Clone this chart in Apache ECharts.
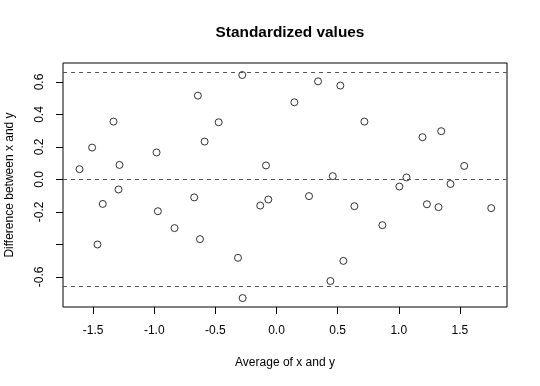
<!DOCTYPE html>
<html>
<head>
<meta charset="utf-8">
<script src="https://cdn.jsdelivr.net/npm/echarts@6/dist/echarts.min.js"></script>
<style>
html,body{margin:0;padding:0;background:#fff;}
#chart{width:540px;height:386px;}
</style>
</head>
<body>
<div id="chart"></div>
<script>
// Average of x and y
var avgValues = [-1.611,-1.508,-1.333,-1.284,-1.292,-1.421,-1.464,-0.981,-0.970,-0.834,
  -0.673,-0.643,-0.626,-0.588,-0.473,-0.315,-0.280,-0.277,-0.133,-0.086,
  -0.067,0.146,0.266,0.340,0.441,0.460,0.522,0.547,0.637,0.719,
  0.866,1.005,1.063,1.194,1.230,1.325,1.347,1.423,1.535,1.756];
// Difference between x and y
var diffValues = [0.063,0.196,0.356,0.089,-0.062,-0.151,-0.401,0.166,-0.196,-0.300,
  -0.111,0.516,-0.368,0.233,0.352,-0.483,0.643,-0.731,-0.161,0.086,
  -0.124,0.475,-0.103,0.604,-0.626,0.020,0.578,-0.502,-0.165,0.356,
  -0.282,-0.044,0.012,0.260,-0.153,-0.171,0.297,-0.028,0.083,-0.177];
var limitLines = [0.658, 0, -0.658];
var xTicks = [-1.5,-1.0,-0.5,0.0,0.5,1.0,1.5];
var yTicks = [-0.6,-0.4,-0.2,0.0,0.2,0.4,0.6];
var yTickLabels = [-0.6,-0.2,0.0,0.2,0.4,0.6];

var FONT = '"Liberation Sans", Arial, Helvetica, sans-serif';
var points = avgValues.map(function(v,i){ return [v, diffValues[i]]; });

var chart = echarts.init(document.getElementById('chart'), null, {renderer:'canvas'});
chart.setOption({
  animation: false,
  backgroundColor: '#fff',
  title: {
    text: 'Standardized values',
    left: 285, top: 20, textAlign: 'center',
    textStyle: {fontFamily: FONT, fontSize: 15.4, fontWeight: 'bold', color: '#000'}
  },
  grid: {left: 63, top: 63, width: 444, height: 244, containLabel: false, outerBoundsMode: 'none',
    show: true, borderColor: '#000', borderWidth: 1, backgroundColor: 'transparent'},
  xAxis: {
    type: 'value', min: -1.746, max: 1.885,
    name: 'Average of x and y', nameLocation: 'middle', nameGap: 50,
    nameTextStyle: {fontFamily: FONT, fontSize: 12, color: '#000'},
    axisLine: {show: false, onZero: false},
    axisTick: {show: true, inside: false, length: 7, lineStyle: {color: '#000', width: 1}, customValues: xTicks},
    axisLabel: {fontFamily: FONT, fontSize: 12, color: '#000', margin: 18, customValues: xTicks,
      formatter: function(v){ return Number(v).toFixed(1); }},
    splitLine: {show: false}
  },
  yAxis: {
    type: 'value', min: -0.786, max: 0.717,
    name: 'Difference between x and y', nameLocation: 'middle', nameGap: 47,
    nameTextStyle: {fontFamily: FONT, fontSize: 12, color: '#000'},
    axisLine: {show: false, onZero: false},
    axisTick: {show: true, inside: false, length: 7, lineStyle: {color: '#000', width: 1}, customValues: yTicks},
    axisLabel: {fontFamily: FONT, fontSize: 12, color: '#000', margin: 17, rotate: 90, customValues: yTickLabels,
      formatter: function(v){ return Number(v).toFixed(1); }},
    splitLine: {show: false}
  },
  series: [{
    type: 'scatter',
    data: points,
    symbol: 'circle',
    symbolSize: 7,
    itemStyle: {color: 'rgba(0,0,0,0)', borderColor: '#000', borderWidth: 1},
    markLine: {
      silent: true, symbol: 'none', label: {show: false},
      lineStyle: {color: '#555', type: [4,4], width: 1},
      data: limitLines.map(function(v){ return {yAxis: v}; })
    }
  }]
});
</script>
</body>
</html>
